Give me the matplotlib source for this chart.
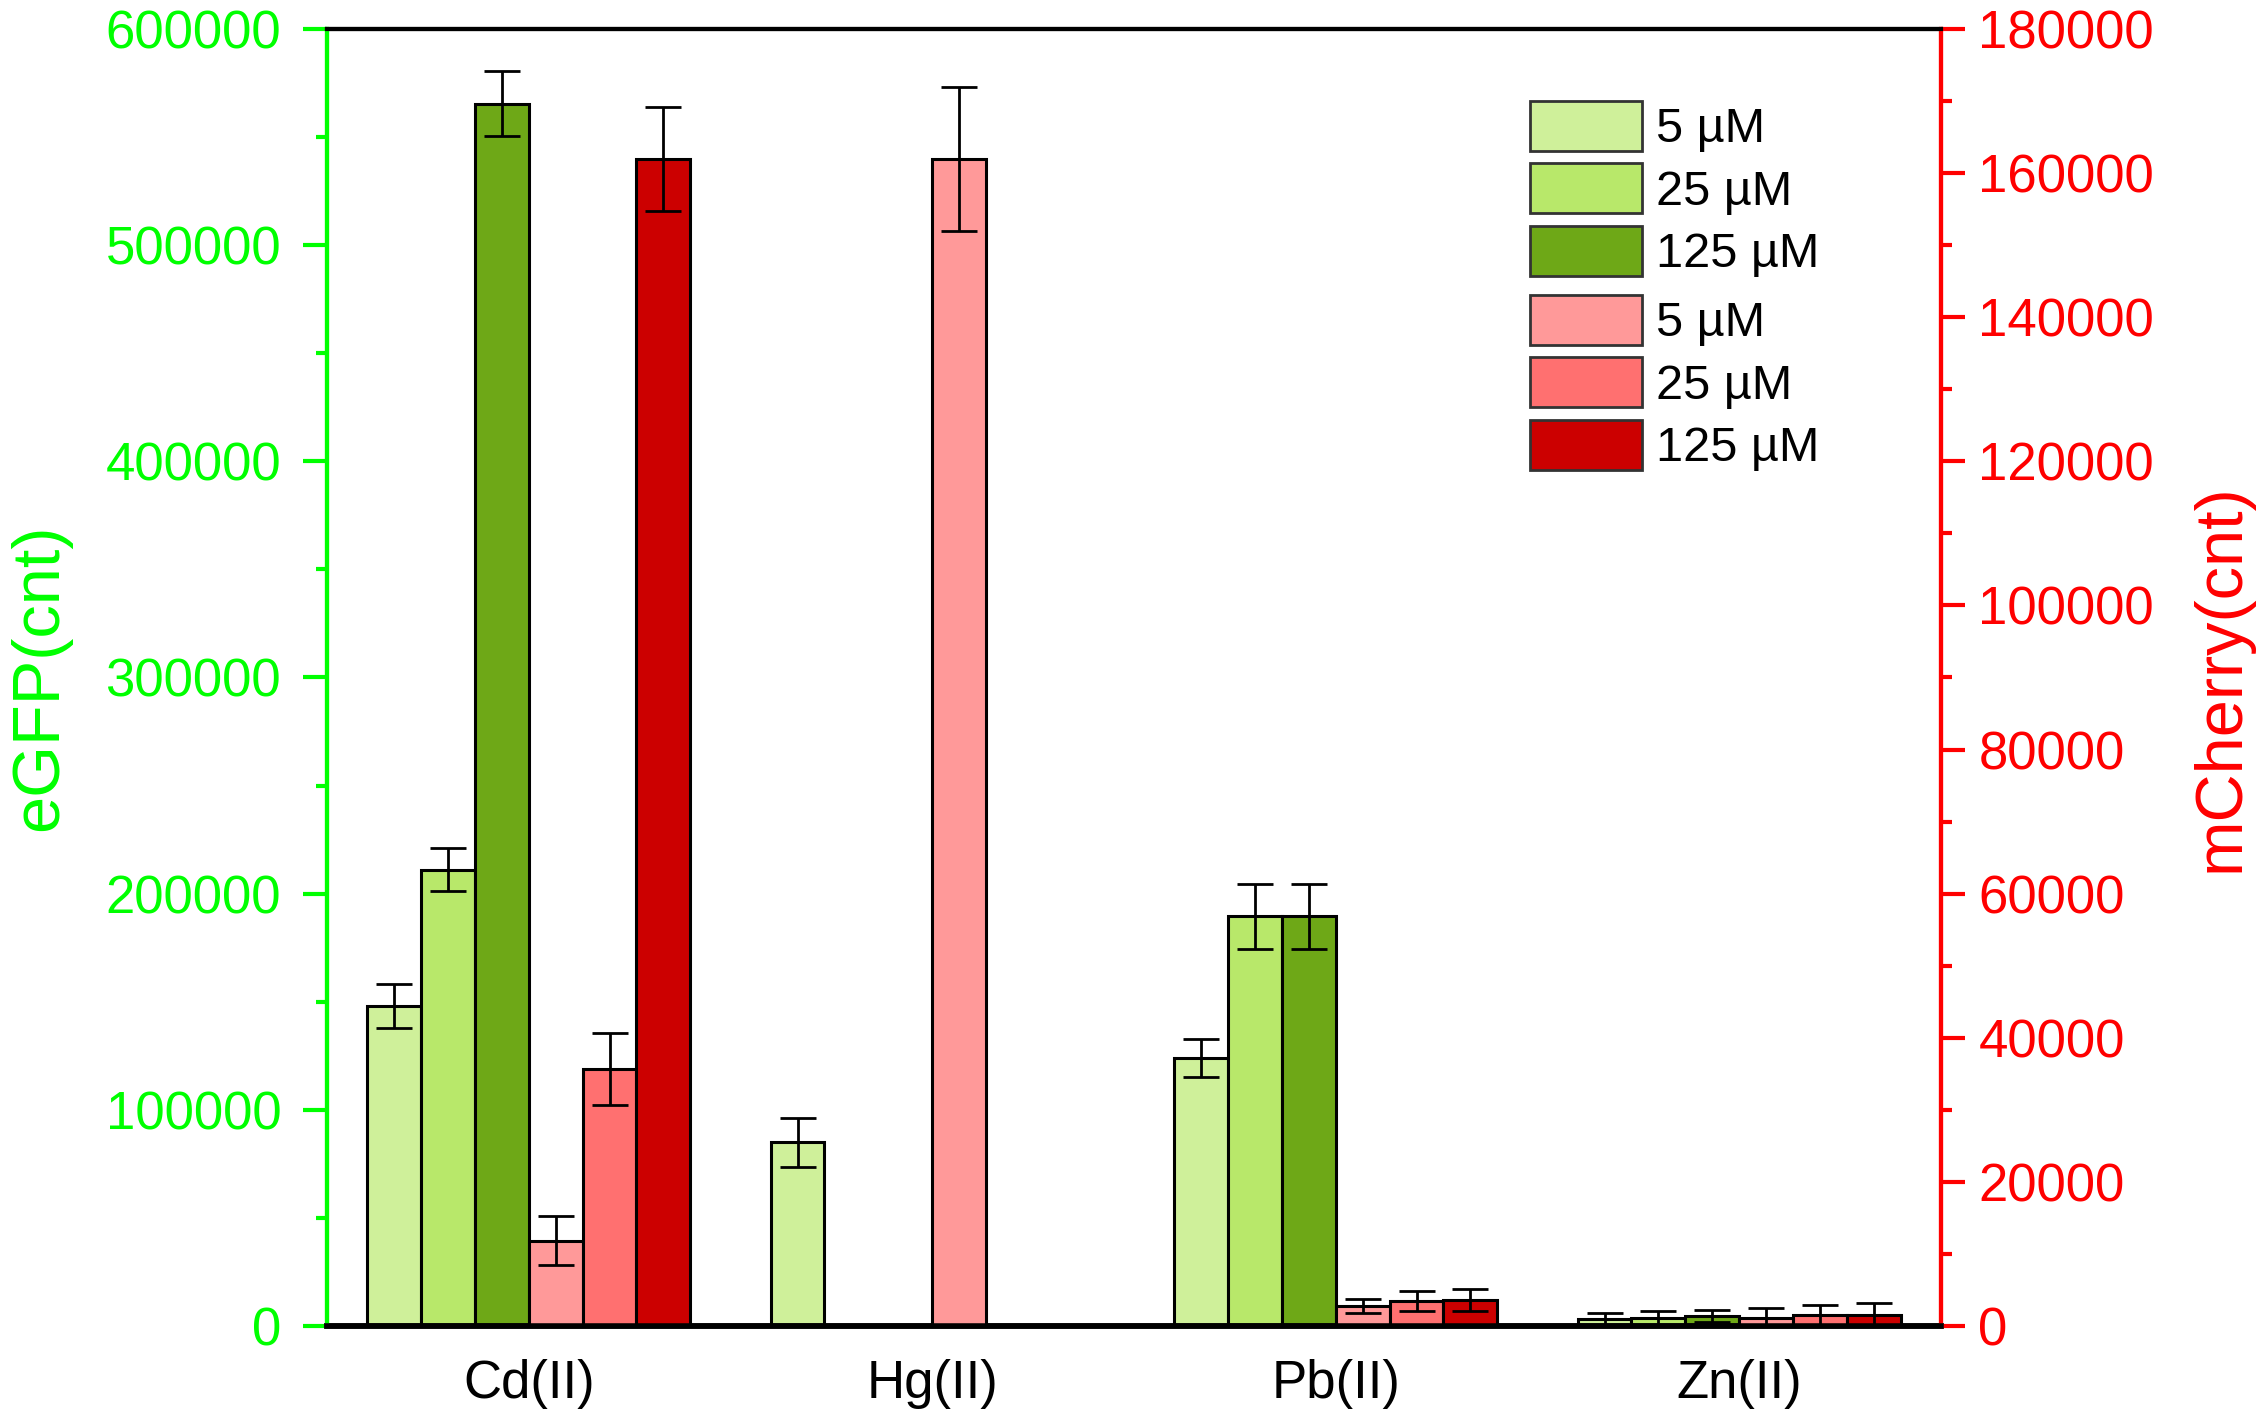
import matplotlib
matplotlib.use("Agg")
import matplotlib.pyplot as plt
import numpy as np
from matplotlib.ticker import MultipleLocator

plt.rcParams['font.family'] = ['Liberation Sans', 'DejaVu Sans']

categories = ["Cd(II)", "Hg(II)", "Pb(II)", "Zn(II)"]
conc_labels = ["5 µM", "25 µM", "125 µM"]

# eGFP (left axis); None = not measured
egfp_5 = [148000, 85000, 124000, 3200]
egfp_5_err = [10000, 11300, 8700, 2600]
egfp_25 = [211000, None, 189500, 3800]
egfp_25_err = [10000, None, 15000, 3200]
egfp_125 = [565500, None, 189500, 4800]
egfp_125_err = [15000, None, 15000, 2800]

# mCherry (right axis)
mch_5 = [11800, 162000, 2800, 1100]
mch_5_err = [3400, 10000, 1000, 1400]
mch_25 = [35700, None, 3500, 1500]
mch_25_err = [5000, None, 1400, 1350]
mch_125 = [162000, None, 3600, 1500]
mch_125_err = [7200, None, 1500, 1650]

green_colors = ["#CFF09A", "#B8E86A", "#6EA817"]
red_colors = ["#FF9999", "#FF7070", "#CC0000"]

fig = plt.figure(figsize=(22.58, 14.13), dpi=100)
ax = fig.add_axes([0.1448, 0.0616, 0.8596 - 0.1448, 0.9795 - 0.0616])
ax2 = ax.twinx()

x = np.arange(len(categories))
w = 0.1335
offsets = (np.arange(6) - 2.5) * w

def draw(axis, vals, errs, off, color):
    xs, ys, es = [], [], []
    for i, (v, e) in enumerate(zip(vals, errs)):
        if v is None:
            continue
        xs.append(x[i] + off); ys.append(v); es.append(e)
    bars = axis.bar(xs, ys, width=w, color=color, edgecolor='black', linewidth=2.2,
                    yerr=es, capsize=13,
                    error_kw=dict(ecolor='black', elinewidth=2, capthick=2))
    return bars

gh = []
for k, (vals, errs) in enumerate([(egfp_5, egfp_5_err), (egfp_25, egfp_25_err), (egfp_125, egfp_125_err)]):
    gh.append(draw(ax, vals, errs, offsets[k], green_colors[k]))
rh = []
for k, (vals, errs) in enumerate([(mch_5, mch_5_err), (mch_25, mch_25_err), (mch_125, mch_125_err)]):
    rh.append(draw(ax2, vals, errs, offsets[3 + k], red_colors[k]))

ax.set_xlim(-0.5, 3.5)
ax.set_ylim(0, 600000)
ax2.set_ylim(0, 180000)

ax.set_xticks(x)
ax.set_xticklabels(categories, fontsize=38)
ax.tick_params(axis='x', length=0, pad=24)

gcol = '#00FF00'
rcol = '#FF0000'
ax.yaxis.set_major_locator(MultipleLocator(100000))
ax.yaxis.set_minor_locator(MultipleLocator(50000))
ax.tick_params(axis='y', which='major', colors=gcol, labelsize=38, length=17, width=3, direction='out', pad=16)
ax.tick_params(axis='y', which='minor', colors=gcol, length=8, width=3, direction='out')
ax2.yaxis.set_major_locator(MultipleLocator(20000))
ax2.yaxis.set_minor_locator(MultipleLocator(10000))
ax2.tick_params(axis='y', which='major', colors=rcol, labelsize=38, length=17, width=3, direction='out', pad=10)
ax2.tick_params(axis='y', which='minor', colors=rcol, length=8, width=3, direction='out')

for a in (ax, ax2):
    a.spines['left'].set_color(gcol)
    a.spines['right'].set_color(rcol)
    a.spines['top'].set_color('black')
    a.spines['bottom'].set_color('black')
    for s in a.spines.values():
        s.set_linewidth(3)
ax.spines['bottom'].set_linewidth(4)
ax2.spines['bottom'].set_linewidth(4)

ax.set_ylabel("eGFP(cnt)", color=gcol, fontsize=48, labelpad=25)
ax2.set_ylabel("mCherry(cnt)", color=rcol, fontsize=48, labelpad=26)

leg_kw = dict(loc='upper left', bbox_transform=fig.transFigure, frameon=False, fontsize=35,
              handlelength=2.3, handleheight=1.2, labelspacing=0.23, handletextpad=0.3,
              borderaxespad=0, borderpad=0)
leg1 = ax2.legend(gh, conc_labels, bbox_to_anchor=(1530 / 2258, 1 - 101 / 1413), **leg_kw)
ax2.add_artist(leg1)
leg2 = ax2.legend(rh, conc_labels, bbox_to_anchor=(1530 / 2258, 1 - 295 / 1413), **leg_kw)
for lg in (leg1, leg2):
    for p in lg.get_patches():
        p.set_edgecolor('#333333')
        p.set_linewidth(2)

fig.savefig("out.png", dpi=100)
